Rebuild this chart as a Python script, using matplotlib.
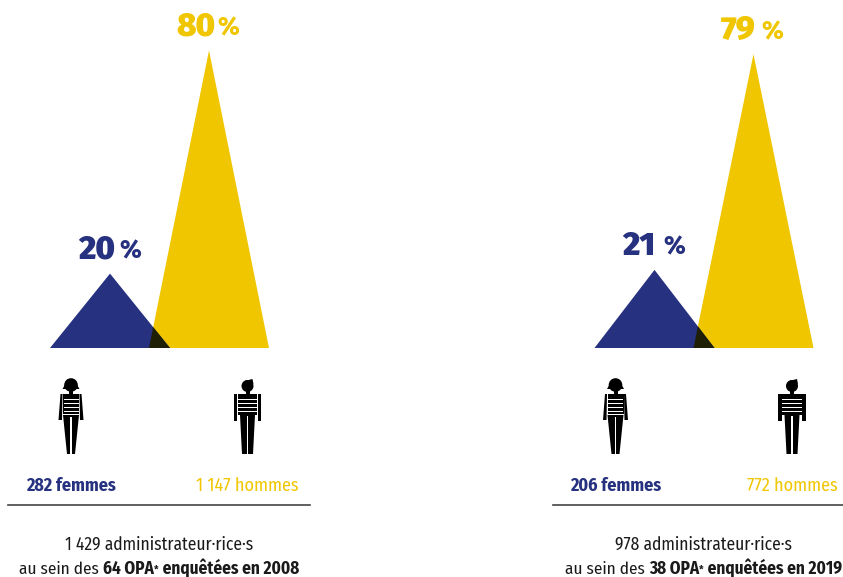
import matplotlib
matplotlib.use('Agg')
import matplotlib.pyplot as plt
from matplotlib.patches import Polygon, Circle, Rectangle

W, H = 843, 577
BLUE = '#26317f'
YELLOW = '#f0c600'
DARK = '#1f1f05'
NARROW = ['Fira Sans Condensed', 'Roboto Condensed', 'Liberation Sans Narrow', 'Roboto', 'DejaVu Sans']
LARGE = ['Fira Sans', 'Open Sans', 'DejaVu Sans']

# valeurs
pct_femmes = [20, 21]
pct_hommes = [80, 79]
nb_femmes = ['282 femmes', '206 femmes']
nb_hommes = ['1 147 hommes', '772 hommes']
totaux = ['1 429 administrateur·rice·s', '978 administrateur·rice·s']
enquetes = ['64 OPA', '38 OPA']
annees = ['2008', '2019']
decalages = [0, 544.5]

PX_PAR_PCT = 3.72
BASE_Y = 348
C_F, C_H, DEMI = 110, 209, 60
RAYURES = (398.5, 402.5, 406.5, 410.5)


def femme(ax, cx):
    ax.add_patch(Circle((cx, 385), 6.8, color='black', lw=0))
    ax.add_patch(Polygon([(cx - 8.5, 389), (cx + 8.5, 389), (cx + 4, 381), (cx - 4, 381)], color='black', lw=0))
    ax.add_patch(Rectangle((cx - 2, 390), 4, 5, color='black', lw=0))
    ax.add_patch(Polygon([(cx - 8, 394), (cx + 8, 394), (cx + 8, 414), (cx - 8, 414)], color='black', lw=0))
    ax.add_patch(Polygon([(cx - 10.5, 394), (cx - 8.5, 394), (cx - 9, 420), (cx - 12.5, 420)], color='black', lw=0))
    ax.add_patch(Polygon([(cx + 8.5, 394), (cx + 10.5, 394), (cx + 12.5, 420), (cx + 9, 420)], color='black', lw=0))
    ax.add_patch(Polygon([(cx - 8, 415), (cx + 8, 415), (cx + 4, 454), (cx - 4, 454)], color='black', lw=0))
    ax.add_patch(Rectangle((cx - 0.6, 417), 1.2, 37, color='white', lw=0))
    for y in RAYURES:
        ax.add_patch(Rectangle((cx - 7.5, y), 15, 1.4, color='white', lw=0))


def homme(ax, cx):
    ax.add_patch(Circle((cx, 386), 6, color='black', lw=0))
    ax.add_patch(Polygon([(cx - 3, 381), (cx + 5, 379), (cx + 6, 384)], color='black', lw=0))
    ax.add_patch(Rectangle((cx - 2, 390), 4, 5, color='black', lw=0))
    ax.add_patch(Rectangle((cx - 9.7, 394), 19.4, 21, color='black', lw=0))
    ax.add_patch(Rectangle((cx - 13.8, 394), 3.5, 27, color='black', lw=0))
    ax.add_patch(Rectangle((cx + 10.3, 394), 3.5, 27, color='black', lw=0))
    ax.add_patch(Polygon([(cx - 7.5, 415), (cx + 7.5, 415), (cx + 5.5, 454), (cx - 5.5, 454)], color='black', lw=0))
    ax.add_patch(Rectangle((cx - 0.7, 416), 1.4, 38, color='white', lw=0))
    for y in RAYURES:
        ax.add_patch(Rectangle((cx - 9.7, y), 19.4, 1.4, color='white', lw=0))


def apex_commun(pf, ph):
    # intersection du bord droit du triangle bleu et du bord gauche du jaune
    hf, hh = pf * PX_PAR_PCT, ph * PX_PAR_PCT
    bord_f, bord_h = C_F + DEMI, C_H - DEMI
    t = (bord_f - bord_h) / (DEMI / hh + DEMI / hf)
    return bord_h + t * DEMI / hh, t / PX_PAR_PCT


fig = plt.figure(figsize=(W / 100, H / 100), dpi=100)
page = fig.add_axes([0, 0, 1, 1])
page.set_xlim(0, W)
page.set_ylim(H, 0)
page.axis('off')
fig.canvas.draw()
rend = fig.canvas.get_renderer()


def ligne_mixte(ax, xc, y, morceaux):
    # morceaux de texte normal / gras centres sur xc
    objets = []
    largeurs = []
    for t, w, s, dy in morceaux:
        o = ax.text(0, y - dy, t, fontsize=s, family=NARROW, weight=w, va='baseline', color='#1a1a1a')
        objets.append(o)
        largeurs.append(o.get_window_extent(rend).width)
    x = xc - sum(largeurs) / 2
    for o, l in zip(objets, largeurs):
        o.set_x(x)
        x += l


for i, dx in enumerate(decalages):
    ax = fig.add_axes([dx / W, 1 - BASE_Y / H, 299 / W, BASE_Y / H])
    ax.set_xlim(0, 299)
    ax.set_ylim(0, BASE_Y / PX_PAR_PCT)
    ax.axis('off')
    ax.patch.set_alpha(0)
    pf, ph = pct_femmes[i], pct_hommes[i]
    ax.add_patch(Polygon([(C_H - DEMI, 0), (C_H, ph), (C_H + DEMI, 0)], color=YELLOW, lw=0))
    ax.add_patch(Polygon([(C_F - DEMI, 0), (C_F, pf), (C_F + DEMI, 0)], color=BLUE, lw=0))
    ax_x, ax_y = apex_commun(pf, ph)
    ax.add_patch(Polygon([(C_H - DEMI, 0), (ax_x, ax_y), (C_F + DEMI, 0)], color=DARK, lw=0))

    # pourcentages
    for p, couleur, x0 in ((pf, BLUE, 78), (ph, YELLOW, 176)):
        y = BASE_Y - p * PX_PAR_PCT - 15
        page.text(dx + x0, y, str(p), color=couleur, fontsize=23.5, family=LARGE, weight=900, va='baseline')
        page.text(dx + x0 + 41, y, '%', color=couleur, fontsize=18, family=LARGE, weight=800, va='baseline')

    femme(page, dx + 71)
    homme(page, dx + 247.5)

    page.text(dx + 71, 491, nb_femmes[i], color=BLUE, fontsize=13, family=NARROW, weight='bold',
              ha='center', va='baseline')
    page.text(dx + 247.5, 491, nb_hommes[i], color=YELLOW, fontsize=13, family=NARROW,
              ha='center', va='baseline')
    page.plot([dx + 8, dx + 310], [505, 505], color='#444444', lw=1.2)

    page.text(dx + 159, 550, totaux[i], color='#1a1a1a', fontsize=12.6, family=NARROW,
              ha='center', va='baseline')
    ligne_mixte(page, dx + 159, 574, [('au sein des ', 'normal', 12.4, 0), (enquetes[i], 'bold', 12.4, 0),
                                      ('*', 'bold', 8, 1),
                                      (' enquêtées en ' + annees[i], 'bold', 12.4, 0)])

fig.savefig('out.png', dpi=100)
